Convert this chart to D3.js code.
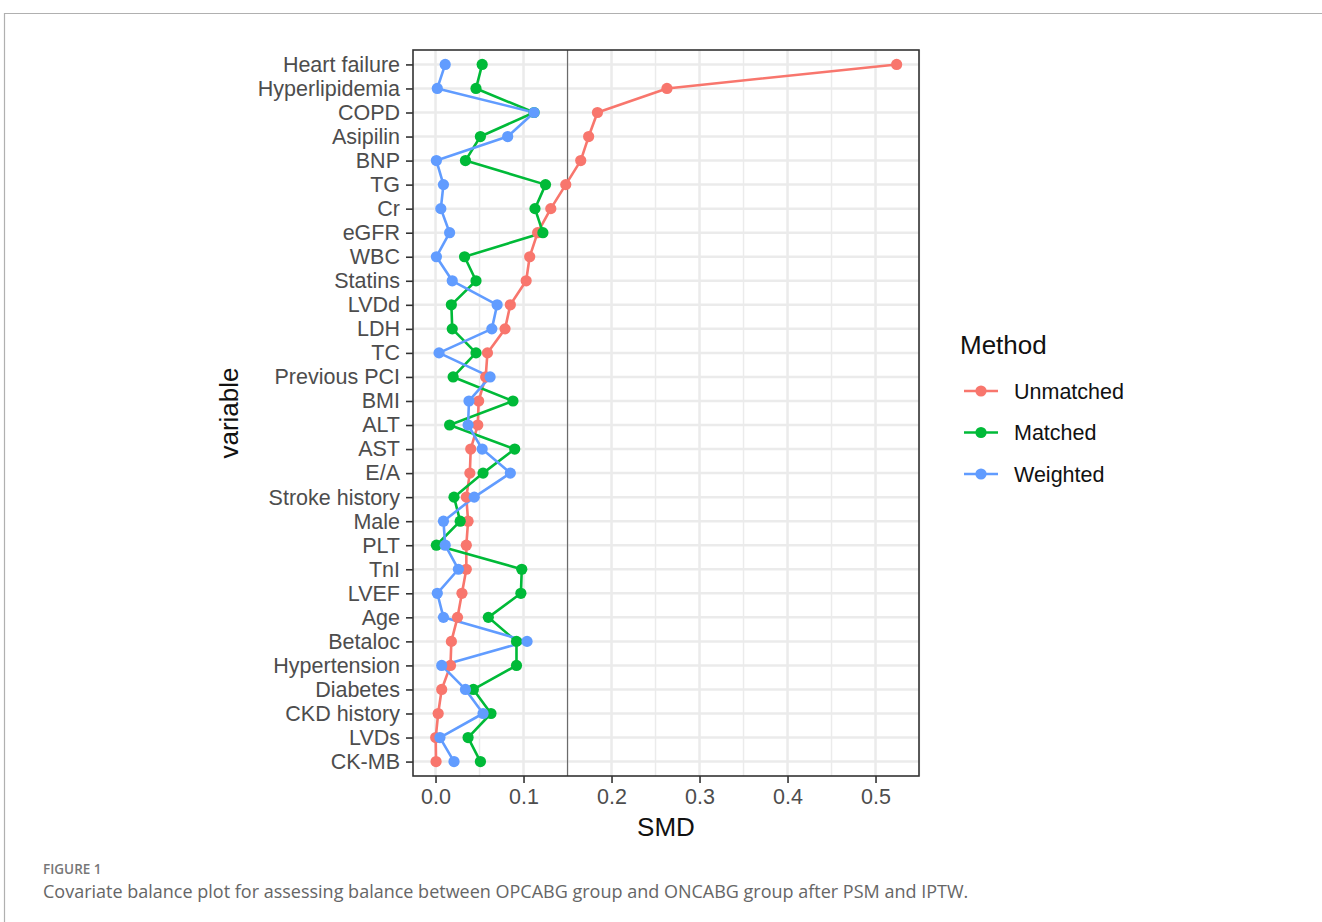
<!DOCTYPE html>
<html>
<head>
<meta charset="utf-8">
<script src="https://cdn.jsdelivr.net/npm/d3@7"></script>
<style>
  body { margin: 0; background: #fff; }
  svg { display: block; }
</style>
</head>
<body>
<div id="chart"></div>
<script>
// Covariates, top to bottom
var variables = ['Heart failure', 'Hyperlipidemia', 'COPD', 'Asipilin', 'BNP', 'TG', 'Cr', 'eGFR',
  'WBC', 'Statins', 'LVDd', 'LDH', 'TC', 'Previous PCI', 'BMI', 'ALT', 'AST', 'E/A',
  'Stroke history', 'Male', 'PLT', 'TnI', 'LVEF', 'Age', 'Betaloc', 'Hypertension',
  'Diabetes', 'CKD history', 'LVDs', 'CK-MB'];

var methods = ['Unmatched', 'Matched', 'Weighted'];

// SMD values, same order as variables
var unmatched = [0.524, 0.263, 0.184, 0.174, 0.165, 0.148, 0.131, 0.116, 0.107, 0.103,
  0.085, 0.079, 0.059, 0.057, 0.049, 0.048, 0.040, 0.039, 0.035, 0.037,
  0.035, 0.035, 0.030, 0.025, 0.018, 0.017, 0.007, 0.003, 0.0002, 0.0006];
var matched = [0.053, 0.046, 0.112, 0.051, 0.034, 0.125, 0.113, 0.122, 0.033, 0.046,
  0.018, 0.019, 0.046, 0.020, 0.088, 0.016, 0.090, 0.054, 0.021, 0.028,
  0.001, 0.098, 0.097, 0.060, 0.092, 0.092, 0.043, 0.063, 0.037, 0.051];
var weighted = [0.011, 0.002, 0.112, 0.082, 0.001, 0.009, 0.006, 0.016, 0.001, 0.019,
  0.070, 0.064, 0.004, 0.062, 0.038, 0.037, 0.053, 0.085, 0.044, 0.009,
  0.011, 0.026, 0.002, 0.009, 0.104, 0.007, 0.034, 0.054, 0.005, 0.021];

var xTicks = [0, 0.1, 0.2, 0.3, 0.4, 0.5];
var threshold = 0.15;

var colors = ['#F8766D', '#00BA38', '#619CFF'];
var seriesValues = [unmatched, matched, weighted];

var W = 1322, H = 922;
var panel = { left: 413, right: 919, top: 50, bottom: 776 };

var svg = d3.select('#chart').append('svg')
  .attr('width', W).attr('height', H);

// outer frame of the figure
svg.append('line').attr('x1', 4).attr('x2', W).attr('y1', 13.5).attr('y2', 13.5)
  .attr('stroke', '#b0b0b0').attr('stroke-width', 1.2);
svg.append('line').attr('x1', 4.5).attr('x2', 4.5).attr('y1', 13).attr('y2', H)
  .attr('stroke', '#b0b0b0').attr('stroke-width', 1.2);

var x = d3.scaleLinear().domain([-0.0256, 0.5494]).range([panel.left, panel.right]);
var y = d3.scalePoint().domain(variables).range([panel.top, panel.bottom]).padding(0.6);

var g = svg.append('g');

// minor x grid
var minor = d3.range(0.05, 0.56, 0.1);
g.selectAll('.minor').data(minor).enter().append('line')
  .attr('x1', d => x(d)).attr('x2', d => x(d))
  .attr('y1', panel.top).attr('y2', panel.bottom)
  .attr('stroke', '#ebebeb').attr('stroke-width', 1.5);

// major grid
g.selectAll('.majx').data(xTicks).enter().append('line')
  .attr('x1', d => x(d)).attr('x2', d => x(d))
  .attr('y1', panel.top).attr('y2', panel.bottom)
  .attr('stroke', '#ebebeb').attr('stroke-width', 2.5);
g.selectAll('.majy').data(variables).enter().append('line')
  .attr('x1', panel.left).attr('x2', panel.right)
  .attr('y1', d => y(d)).attr('y2', d => y(d))
  .attr('stroke', '#ebebeb').attr('stroke-width', 2.5);

// threshold line
g.append('line')
  .attr('x1', x(threshold)).attr('x2', x(threshold))
  .attr('y1', panel.top).attr('y2', panel.bottom)
  .attr('stroke', '#6b6b6b').attr('stroke-width', 1.2);

// lines for each method
var line = d3.line()
  .x(d => x(d.v))
  .y(d => y(d.name));

seriesValues.forEach(function (vals, i) {
  var pts = vals.map(function (v, j) { return { name: variables[j], v: v }; });
  g.append('path').datum(pts)
    .attr('d', line)
    .attr('fill', 'none')
    .attr('stroke', colors[i])
    .attr('stroke-width', 2.6)
    .attr('stroke-linejoin', 'round');
});

seriesValues.forEach(function (vals, i) {
  g.selectAll('.pt' + i).data(vals).enter().append('circle')
    .attr('cx', d => x(d))
    .attr('cy', (d, j) => y(variables[j]))
    .attr('r', 5.6)
    .attr('fill', colors[i]);
});

// panel border
g.append('rect')
  .attr('x', panel.left).attr('y', panel.top)
  .attr('width', panel.right - panel.left).attr('height', panel.bottom - panel.top)
  .attr('fill', 'none').attr('stroke', '#333').attr('stroke-width', 1.6);

var font = "'Liberation Sans', Arial, sans-serif";

// x axis
var xAxis = svg.append('g').attr('transform', 'translate(0,' + panel.bottom + ')')
  .call(d3.axisBottom(x).tickValues(xTicks).tickFormat(d3.format('.1f')).tickSize(7).tickPadding(6));
xAxis.select('.domain').remove();
xAxis.selectAll('line').attr('stroke', '#333').attr('stroke-width', 1.6);
xAxis.selectAll('text').attr('font-family', font).attr('font-size', 21.5).attr('fill', '#4d4d4d');

// y axis
var yAxis = svg.append('g').attr('transform', 'translate(' + panel.left + ',0)')
  .call(d3.axisLeft(y).tickSize(7).tickPadding(6));
yAxis.select('.domain').remove();
yAxis.selectAll('line').attr('stroke', '#333').attr('stroke-width', 1.6);
yAxis.selectAll('text').attr('font-family', font).attr('font-size', 21.5).attr('fill', '#4d4d4d');

// axis titles
svg.append('text').attr('x', (panel.left + panel.right) / 2).attr('y', 836)
  .attr('text-anchor', 'middle').attr('font-family', font).attr('font-size', 26)
  .attr('fill', '#111').text('SMD');
svg.append('text')
  .attr('transform', 'translate(238,' + ((panel.top + panel.bottom) / 2) + ') rotate(-90)')
  .attr('text-anchor', 'middle').attr('font-family', font).attr('font-size', 26)
  .attr('fill', '#111').text('variable');

// legend
var legend = svg.append('g');
legend.append('text').attr('x', 960).attr('y', 354)
  .attr('font-family', font).attr('font-size', 26).attr('fill', '#111').text('Method');
var items = legend.selectAll('.item').data(methods).enter().append('g')
  .attr('transform', (d, i) => 'translate(0,' + (391 + i * 41.5) + ')');
items.append('line').attr('x1', 964).attr('x2', 998).attr('y1', 0).attr('y2', 0)
  .attr('stroke', (d, i) => colors[i]).attr('stroke-width', 2.6);
items.append('circle').attr('cx', 981).attr('cy', 0).attr('r', 5.6)
  .attr('fill', (d, i) => colors[i]);
items.append('text').attr('x', 1014).attr('y', 7.5)
  .attr('font-family', font).attr('font-size', 21.5).attr('fill', '#111').text(d => d);

// caption
svg.append('text').attr('x', 43).attr('y', 874)
  .attr('font-family', "'Open Sans', 'Noto Sans', sans-serif").attr('font-size', 13.5)
  .attr('font-weight', 600).attr('fill', '#777').text('FIGURE 1');
svg.append('text').attr('x', 43).attr('y', 898)
  .attr('font-family', "'Open Sans', 'Noto Sans', sans-serif").attr('font-size', 18)
  .attr('fill', '#666')
  .text('Covariate balance plot for assessing balance between OPCABG group and ONCABG group after PSM and IPTW.');
</script>
</body>
</html>
